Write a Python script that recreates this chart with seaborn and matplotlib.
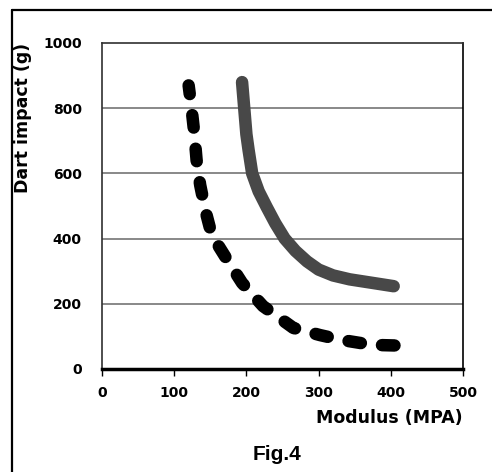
import matplotlib
matplotlib.use('Agg')
import matplotlib.pyplot as plt
import seaborn as sns
import pandas as pd
from matplotlib.lines import Line2D

# dashed curve (black)
dash_modulus = [120, 124, 128, 131, 136, 143, 152, 172, 194, 223, 265, 302, 332, 374, 426]
dash_impact = [870, 800, 720, 641, 564, 488, 411, 340, 264, 193, 126, 104, 89, 74, 71]

# solid curve (grey)
solid_modulus = [194, 197, 200, 203, 208, 217, 228, 240, 253, 268, 284, 300, 320, 343, 375, 404]
solid_impact = [880, 800, 720, 672, 600, 545, 497, 447, 400, 362, 330, 305, 287, 275, 264, 254]

x_ticks = [0, 100, 200, 300, 400, 500]
y_ticks = [0, 200, 400, 600, 800, 1000]

sns.set_style("white")
plt.rcParams['font.family'] = ['DejaVu Sans']
plt.rcParams['text.color'] = 'black'
plt.rcParams['xtick.color'] = 'black'
plt.rcParams['ytick.color'] = 'black'

fig = plt.figure(figsize=(4.92, 4.72), dpi=100)
ax = fig.add_axes([102 / 492, 1 - 369 / 472, 361 / 492, 326 / 472])

df_dash = pd.DataFrame({'Modulus': dash_modulus, 'Impact': dash_impact})
df_solid = pd.DataFrame({'Modulus': solid_modulus, 'Impact': solid_impact})

sns.lineplot(data=df_solid, x='Modulus', y='Impact', ax=ax, color='#484848',
             lw=9, sort=False, solid_capstyle='round', solid_joinstyle='round')
sns.lineplot(data=df_dash, x='Modulus', y='Impact', ax=ax, color='black',
             lw=9, sort=False, dash_capstyle='round', dash_joinstyle='round',
             linestyle=(0.3, (1.0, 1.7)))

ax.set_xlim(0, 500)
ax.set_ylim(0, 1000)
ax.set_xticks(x_ticks)
ax.set_yticks(y_ticks)
ax.set_xticklabels([str(t) for t in x_ticks], fontsize=10, fontweight='bold')
ax.set_yticklabels([str(t) for t in y_ticks], fontsize=10, fontweight='bold')

for y in y_ticks[1:-1]:
    ax.axhline(y, color='#7f7f7f', lw=1.3, zorder=0)

ax.tick_params(axis='x', bottom=True, length=5, width=1, color='black', pad=7)
ax.tick_params(axis='y', left=False, pad=11)

for side in ['left', 'top']:
    ax.spines[side].set_color('#303030')
    ax.spines[side].set_linewidth(1.2)
ax.spines['right'].set_color('black')
ax.spines['right'].set_linewidth(1.2)
ax.spines['bottom'].set_color('black')
ax.spines['bottom'].set_linewidth(2.5)

ax.set_xlabel('')
ax.set_ylabel('')
fig.text(463 / 492, 1 - 418 / 472, 'Modulus (MPA)', ha='right', va='center',
         fontsize=12.5, fontweight='bold')
fig.text(23 / 492, 1 - 43 / 472, 'Dart impact (g)', ha='center', va='top',
         rotation=90, fontsize=12.5, fontweight='bold')
fig.text(277 / 492, 1 - 455 / 472, 'Fig.4', ha='center', va='center',
         fontsize=15, fontweight='bold', family=['Liberation Sans', 'DejaVu Sans'])

# outer frame (only left and top edges visible)
fig.add_artist(Line2D([12 / 492, 12 / 492], [0, 1 - 10 / 472], transform=fig.transFigure,
                      color='black', lw=1.6))
fig.add_artist(Line2D([12 / 492, 1], [1 - 10 / 472, 1 - 10 / 472], transform=fig.transFigure,
                      color='black', lw=1.6))

fig.savefig('out.png', dpi=100)
